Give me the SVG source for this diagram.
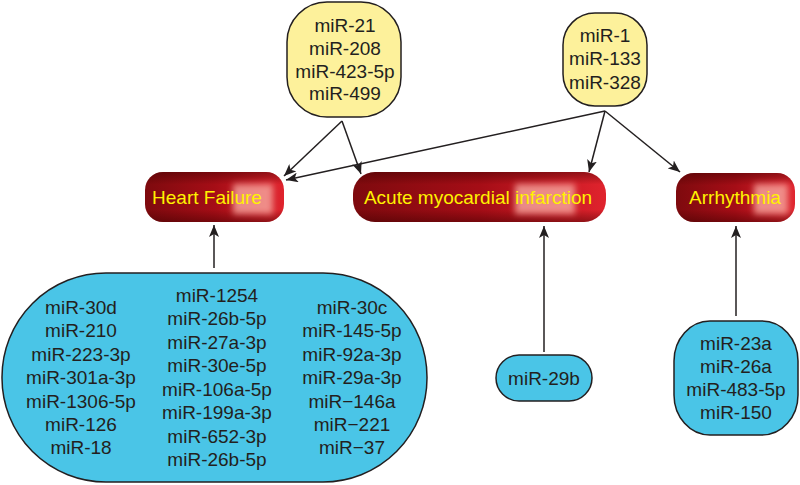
<svg xmlns="http://www.w3.org/2000/svg" width="800" height="485" viewBox="0 0 800 485">
<defs>
<style>
.t{font-family:"Liberation Sans",Arial,sans-serif;font-size:19px;fill:#231f20;text-anchor:middle}
.d{font-family:"Liberation Sans",Arial,sans-serif;font-size:19px;fill:#fff200;text-anchor:middle}
.y{fill:#fdf19b;stroke:#231f20;stroke-width:1.5}
.b{fill:#4ac5e7;stroke:#231f20;stroke-width:1.5}
.c{stroke:#231f20;stroke-width:1.5;fill:none;marker-end:url(#ah)}
</style>
<marker id="ah" markerUnits="userSpaceOnUse" markerWidth="12" markerHeight="10" viewBox="0 0 12 10" refX="12" refY="5" orient="auto">
<path d="M0,0 L12,5 L0,10 L3,5 z" fill="#231f20"/>
</marker>
<linearGradient id="rh" x1="0" y1="0" x2="1" y2="0">
<stop offset="0" stop-color="#7e0a0e"/>
<stop offset="0.5" stop-color="#a50d16"/>
<stop offset="1" stop-color="#e0232d"/>
</linearGradient>
<linearGradient id="rv" x1="0" y1="0" x2="0" y2="1">
<stop offset="0" stop-color="#3a0000" stop-opacity="0.45"/>
<stop offset="0.25" stop-color="#3a0000" stop-opacity="0"/>
<stop offset="0.75" stop-color="#3a0000" stop-opacity="0"/>
<stop offset="1" stop-color="#3a0000" stop-opacity="0.45"/>
</linearGradient>
<filter id="bl" x="-30%" y="-30%" width="160%" height="160%">
<feGaussianBlur stdDeviation="3"/>
</filter>
</defs>
<rect width="800" height="485" fill="#ffffff"/>

<g id="connectors">
<line class="c" x1="342" y1="121" x2="284" y2="176"/>
<line class="c" x1="342" y1="121" x2="361" y2="174"/>
<line class="c" x1="605" y1="111" x2="286" y2="180"/>
<line class="c" x1="605" y1="111" x2="589" y2="172"/>
<line class="c" x1="605" y1="111" x2="680" y2="172"/>
<line class="c" x1="214" y1="268" x2="214" y2="225"/>
<line class="c" x1="544" y1="352" x2="544" y2="226"/>
<line class="c" x1="736" y1="316" x2="736" y2="226"/>
</g>

<g id="y1">
<rect class="y" x="287" y="2" width="114" height="115" rx="40" ry="40"/>
<text class="t" x="345" y="32">miR-21</text>
<text class="t" x="345" y="55">miR-208</text>
<text class="t" x="345" y="78">miR-423-5p</text>
<text class="t" x="345" y="100">miR-499</text>
</g>

<g id="y2">
<rect class="y" x="563" y="13" width="84" height="93" rx="32" ry="32"/>
<text class="t" x="605" y="42">miR-1</text>
<text class="t" x="605" y="65">miR-133</text>
<text class="t" x="605" y="89">miR-328</text>
</g>

<g id="hf">
<rect x="145" y="172" width="139" height="50" rx="18" fill="url(#rh)"/>
<rect x="145" y="172" width="139" height="50" rx="18" fill="url(#rv)"/>
<rect x="233" y="184" width="40" height="30" fill="#f7a8a0" opacity="0.8" filter="url(#bl)"/>
<text class="d" x="207" y="204">Heart Failure</text>
</g>

<g id="ami">
<rect x="353" y="172" width="253" height="50" rx="22" fill="url(#rh)"/>
<rect x="353" y="172" width="253" height="50" rx="22" fill="url(#rv)"/>
<rect x="515" y="184" width="60" height="30" fill="#f7a8a0" opacity="0.8" filter="url(#bl)"/>
<text class="d" x="478" y="204">Acute myocardial infarction</text>
</g>

<g id="arr">
<rect x="676" y="173" width="119" height="49" rx="18" fill="url(#rh)"/>
<rect x="676" y="173" width="119" height="49" rx="18" fill="url(#rv)"/>
<rect x="754" y="184" width="34" height="30" fill="#f7a8a0" opacity="0.8" filter="url(#bl)"/>
<text class="d" x="735" y="204">Arrhythmia</text>
</g>

<g id="hfmirs">
<rect class="b" x="2" y="273" width="425" height="209" rx="104" ry="104"/>
<text class="t" x="81" y="314">miR-30d</text>
<text class="t" x="81" y="337">miR-210</text>
<text class="t" x="81" y="361">miR-223-3p</text>
<text class="t" x="81" y="384">miR-301a-3p</text>
<text class="t" x="81" y="408">miR-1306-5p</text>
<text class="t" x="81" y="431">miR-126</text>
<text class="t" x="81" y="454">miR-18</text>
<text class="t" x="217" y="302">miR-1254</text>
<text class="t" x="217" y="325">miR-26b-5p</text>
<text class="t" x="217" y="349">miR-27a-3p</text>
<text class="t" x="217" y="372">miR-30e-5p</text>
<text class="t" x="217" y="396">miR-106a-5p</text>
<text class="t" x="217" y="419">miR-199a-3p</text>
<text class="t" x="217" y="443">miR-652-3p</text>
<text class="t" x="217" y="466">miR-26b-5p</text>
<text class="t" x="352" y="314">miR-30c</text>
<text class="t" x="352" y="337">miR-145-5p</text>
<text class="t" x="352" y="361">miR-92a-3p</text>
<text class="t" x="352" y="384">miR-29a-3p</text>
<text class="t" x="352" y="408">miR−146a</text>
<text class="t" x="352" y="431">miR−221</text>
<text class="t" x="352" y="454">miR−37</text>
</g>

<g id="ami-mir">
<rect class="b" x="496" y="355" width="96" height="46" rx="23" ry="23"/>
<text class="t" x="544" y="385">miR-29b</text>
</g>

<g id="arr-mirs">
<rect class="b" x="674" y="321" width="124" height="114" rx="36" ry="40"/>
<text class="t" x="736" y="350">miR-23a</text>
<text class="t" x="736" y="373">miR-26a</text>
<text class="t" x="736" y="396">miR-483-5p</text>
<text class="t" x="736" y="419">miR-150</text>
</g>
</svg>
